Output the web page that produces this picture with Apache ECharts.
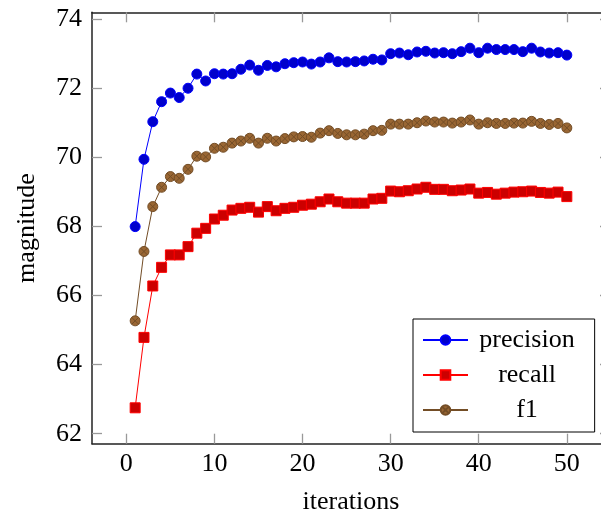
<!DOCTYPE html>
<html>
<head>
<meta charset="utf-8">
<script src="https://cdn.jsdelivr.net/npm/echarts@6/dist/echarts.min.js"></script>
<style>
html,body{margin:0;padding:0;background:#fff;}
#chart{width:601px;height:515px;}
</style>
</head>
<body>
<div id="chart"></div>
<script>
const iterations = [1,2,3,4,5,6,7,8,9,10,11,12,13,14,15,16,17,18,19,20,21,22,23,24,25,26,27,28,29,30,31,32,33,34,35,36,37,38,39,40,41,42,43,44,45,46,47,48,49,50];
const precision = [68.00,69.95,71.04,71.62,71.87,71.74,72.01,72.42,72.22,72.43,72.42,72.43,72.56,72.68,72.53,72.67,72.63,72.72,72.75,72.77,72.71,72.77,72.89,72.78,72.77,72.78,72.80,72.85,72.83,73.01,73.03,72.98,73.06,73.08,73.03,73.04,73.01,73.07,73.17,73.04,73.17,73.13,73.13,73.13,73.07,73.17,73.06,73.03,73.04,72.97];
const recall = [62.75,64.79,66.28,66.82,67.18,67.18,67.42,67.81,67.95,68.22,68.33,68.48,68.53,68.56,68.42,68.58,68.46,68.53,68.56,68.62,68.65,68.72,68.80,68.72,68.68,68.68,68.68,68.80,68.82,69.03,69.01,69.04,69.09,69.14,69.08,69.08,69.04,69.06,69.09,68.97,68.99,68.94,68.97,69.00,69.01,69.03,68.99,68.97,69.00,68.87];
const f1 = [65.27,67.28,68.58,69.14,69.45,69.40,69.66,70.04,70.02,70.27,70.30,70.42,70.48,70.56,70.42,70.56,70.48,70.55,70.60,70.61,70.59,70.71,70.78,70.70,70.66,70.66,70.68,70.78,70.79,70.97,70.97,70.97,71.01,71.06,71.03,71.03,71.00,71.03,71.09,70.97,71.01,70.99,70.99,71.00,71.00,71.05,70.99,70.96,70.99,70.86];
const seriesNames = ['precision','recall','f1'];
const xTicks = [0,10,20,30,40,50];
const yTicks = [62,64,66,68,70,72,74];
const xName = 'iterations';
const yName = 'magnitude';

const FONT = 'Liberation Serif';
const X_MIN = -3.9, X_MAX = 54.9, Y_MIN = 61.71, Y_MAX = 74.21;
const pairs = arr => iterations.map((x, i) => [x, arr[i]]);
const otimes = 'path://M10,0A10,10,0,1,1,-10,0A10,10,0,1,1,10,0ZM-7.07,-7.07L7.07,7.07M7.07,-7.07L-7.07,7.07';

function xAxis(pos, main) {
  return {
    type: 'value', position: pos, min: X_MIN, max: X_MAX,
    name: main ? xName : '', nameLocation: 'middle', nameGap: 45,
    nameTextStyle: { fontFamily: FONT, fontSize: 26, color: '#000' },
    axisLine: { show: true, onZero: false, lineStyle: { color: '#222', width: 1.5 } },
    axisTick: { show: true, inside: true, length: 10, customValues: xTicks, lineStyle: { color: '#999', width: 1.3 } },
    axisLabel: { show: main, customValues: xTicks, margin: 7, fontFamily: FONT, fontSize: 26, color: '#000' },
    splitLine: { show: false }
  };
}
function yAxis(pos, main) {
  return {
    type: 'value', position: pos, min: Y_MIN, max: Y_MAX,
    name: main ? yName : '', nameLocation: 'middle', nameGap: 52, nameRotate: 90,
    nameTextStyle: { fontFamily: FONT, fontSize: 26, color: '#000' },
    axisLine: { show: true, onZero: false, lineStyle: { color: '#222', width: 1.5 } },
    axisTick: { show: true, inside: true, length: 10, customValues: yTicks, lineStyle: { color: '#999', width: 1.3 } },
    axisLabel: { show: main, customValues: yTicks, margin: 10, fontFamily: FONT, fontSize: 26, color: '#000' },
    splitLine: { show: false }
  };
}

const styles = [
  { line: '#0000ff', fill: '#0000cc', border: '#0000ff', symbol: 'circle', size: 10 },
  { line: '#ff0000', fill: '#cc0000', border: '#ff0000', symbol: 'rect', size: 10 },
  { line: '#734d26', fill: '#996633', border: '#734d26', symbol: otimes, size: 10 }
];
const dataSets = [precision, recall, f1];

const chart = echarts.init(document.getElementById('chart'), null, { renderer: 'canvas' });
chart.setOption({
  animation: false,
  backgroundColor: '#fff',
  grid: { left: 92, top: 12.3, width: 518, bottom: 71.3, containLabel: false, outerBoundsMode: 'none' },
  xAxis: [xAxis('bottom', true), xAxis('top', false)],
  yAxis: [yAxis('left', true), yAxis('right', false)],
  legend: {
    orient: 'vertical', left: 413, top: 319,
    padding: [8, 20, 9, 9], itemGap: 9, itemWidth: 45, itemHeight: 12,
    backgroundColor: '#fff', borderColor: '#000', borderWidth: 1,
    data: seriesNames,
    formatter: n => '{c|' + n + '}',
    textStyle: { fontFamily: FONT, fontSize: 26, color: '#000',
      rich: { c: { width: 108, align: 'center', fontFamily: FONT, fontSize: 26, color: '#000' } } }
  },
  series: seriesNames.map((name, i) => ({
    name, type: 'line', xAxisIndex: 0, yAxisIndex: 0,
    data: pairs(dataSets[i]),
    symbol: styles[i].symbol, symbolSize: styles[i].size, showAllSymbol: true,
    lineStyle: { color: styles[i].line, width: 1 },
    itemStyle: { color: styles[i].fill, borderColor: styles[i].border, borderWidth: 1 },
    clip: false
  }))
});
</script>
</body>
</html>
